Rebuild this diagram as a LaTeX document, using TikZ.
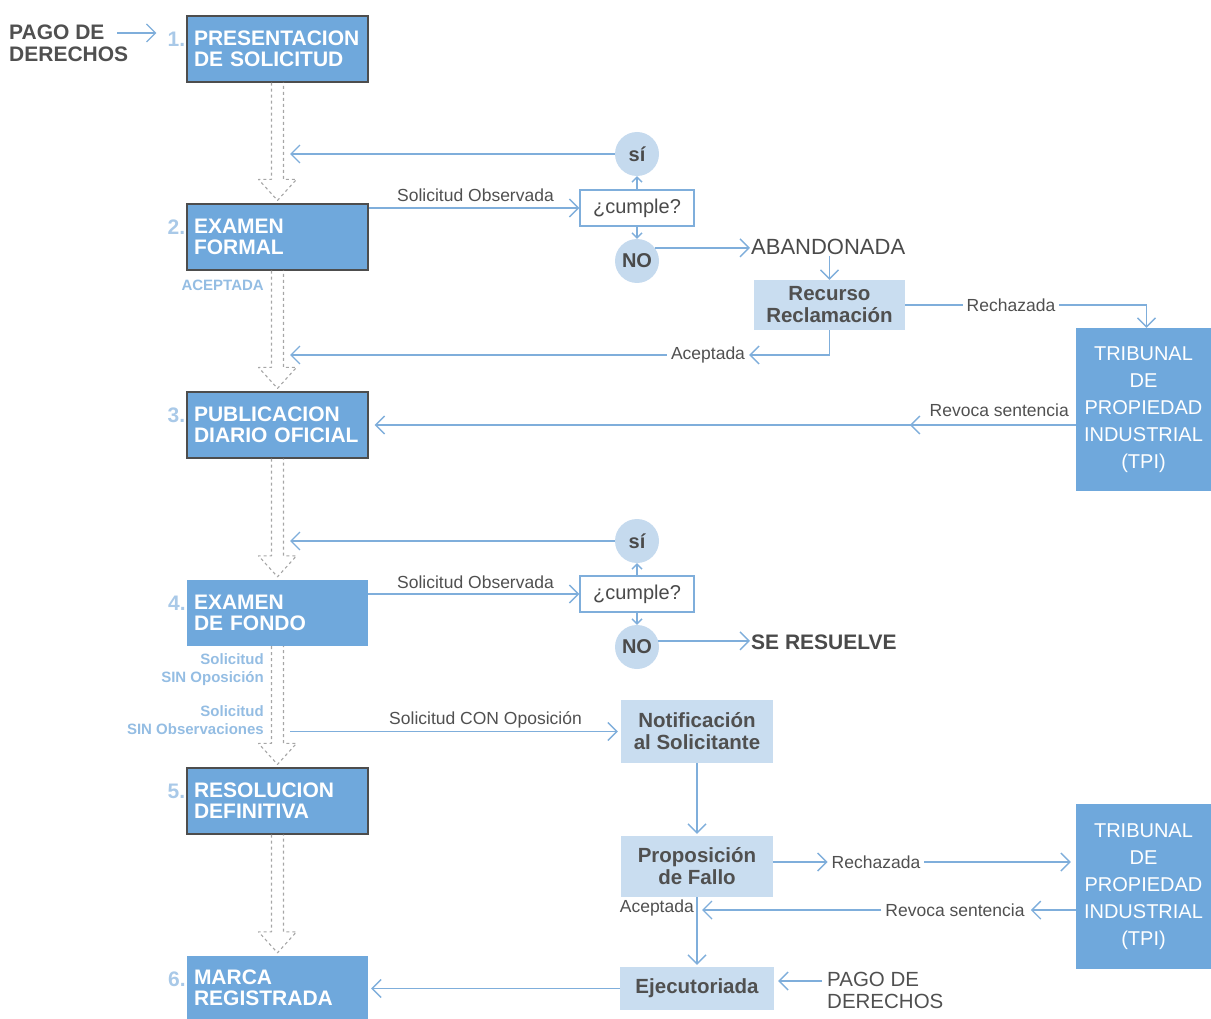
\documentclass[tikz,border=0pt]{standalone}
\usepackage{fontspec}
\setmainfont{Liberation Sans}
\usetikzlibrary{arrows.meta,calc,decorations.markings}
\definecolor{boxblue}{HTML}{6FA8DC}
\definecolor{boxborder}{HTML}{4D4D4D}
\definecolor{lightbox}{HTML}{C9DDF0}
\definecolor{circlefill}{HTML}{C5DAEE}
\definecolor{linecol}{HTML}{7FAEDB}
\definecolor{numcol}{HTML}{A9C9E8}
\definecolor{leftcol}{HTML}{94BDE3}
\definecolor{textgray}{HTML}{505050}
\definecolor{textdark}{HTML}{4A4A4A}
\definecolor{dashgray}{HTML}{A6A6A6}
\tikzset{
  mainbox/.style={fill=boxblue, minimum width=181pt, minimum height=66pt, text width=167pt,
    inner xsep=7pt, inner ysep=0pt, align=left, text=white, font=\fontsize{21}{21}\selectfont\bfseries},
  bordered/.style={draw=boxborder, line width=1.2pt},
  num/.style={text=numcol, font=\fontsize{21}{21}\selectfont\bfseries, inner sep=0pt, anchor=base east},
  lightnode/.style={fill=lightbox, text=textgray, font=\fontsize{20.5}{22}\selectfont\bfseries, align=center, inner sep=0pt},
  circ/.style={circle, fill=circlefill, minimum size=44pt, inner sep=0pt, text=textdark, font=\fontsize{20}{20}\selectfont\bfseries},
  cumple/.style={draw=linecol, line width=1.3pt, fill=white, minimum width=114pt, minimum height=36pt, inner sep=0pt, text=textdark, font=\fontsize{20}{20}\selectfont},
  lbl/.style={text=textgray, font=\fontsize{17.5}{18}\selectfont, inner ysep=1pt, inner xsep=4pt},
  leftlbl/.style={text=leftcol, font=\fontsize{15}{18}\selectfont\bfseries, inner sep=0pt, align=right},
  trib/.style={fill=boxblue, text=white, minimum width=135pt, align=center, font=\fontsize{20}{27}\selectfont, inner sep=0pt},
  bigtxt/.style={text=textdark, font=\fontsize{22}{22}\selectfont, inner sep=1pt},
  bigbold/.style={text=textdark, font=\fontsize{21}{21}\selectfont\bfseries, inner sep=1pt},
  pagotxt/.style={text=textgray, font=\fontsize{20.5}{22}\selectfont, align=left, inner sep=0pt},
  conn/.style={draw=linecol, line width=1.4pt},
  arr/.style={conn, -{Straight Barb[length=9pt,width=18pt]}},
  sarr/.style={conn, -{Straight Barb[length=5pt,width=10pt]}},
  dasharr/.style={draw=dashgray, line width=1.1pt, dash pattern=on 3pt off 3pt, line join=round},
}
\begin{document}
\begin{tikzpicture}[x=1pt,y=-1pt]
\useasboundingbox (0,0) rectangle (1211,1019);

% main steps
\node[mainbox,bordered] (b1) at (277.5,49) {PRESENTACION\\DE SOLICITUD};
\node[mainbox,bordered] (b2) at (277.5,237) {EXAMEN\\FORMAL};
\node[mainbox,bordered] (b3) at (277.5,425) {PUBLICACION\\DIARIO OFICIAL};
\node[mainbox] (b4) at (277.5,613) {EXAMEN\\DE FONDO};
\node[mainbox,bordered] (b5) at (277.5,801) {RESOLUCION\\DEFINITIVA};
\node[mainbox, minimum height=63pt] (b6) at (277.5,987.5) {MARCA\\REGISTRADA};
\foreach \b/\n in {b1/1,b2/2,b3/3,b4/4,b5/5,b6/6}
  \node[num] (num\n) at ($(\b.north west)+(-1,31)$) {\n.};

% dashed double arrows
\foreach \a/\b in {b1/b2,b2/b3,b3/b4,b4/b5,b5/b6}
  \draw[dasharr] ($(\a.south)+(-6,0)$) -- ($(\b.north)+(-6,-24)$) -- ($(\b.north)+(-19,-24)$)
    -- ($(\b.north)+(0,-3)$) -- ($(\b.north)+(19,-24)$) -- ($(\b.north)+(6,-24)$) -- ($(\a.south)+(6,0)$);

% top-left payment
\node[pagotxt, font=\fontsize{21}{22}\selectfont\bfseries, text=textgray, anchor=north west] (pg1) at (9,25) {PAGO DE\\DERECHOS};
\coordinate (pgB) at (117,33);
\draw[arr] (pgB) -- ([xshift=-11pt]num1.west |- pgB);

% first check
\node[circ] (s1) at (637,154) {sí};
\node[cumple] (c1) at (637,208) {¿cumple?};
\node[circ] (o1) at (637,261) {NO};
\coordinate (j1) at (290,154);
\draw[arr] (s1.west) -- (j1);
\draw[arr] (b2.east |- c1) -- (c1.west);
\node[lbl, anchor=base east] (so1) at (558,202) {Solicitud Observada};
\draw[sarr] (c1.north) -- (s1.south);
\draw[sarr] (c1.south) -- (o1.north);
\node[bigtxt, anchor=west] (ab) at (750,247) {ABANDONADA};
\draw[arr] (o1.36) -- (o1.36 -| ab.west);
\node[lightnode, minimum width=151pt, minimum height=50pt] (rr) at (829.5,305) {Recurso\\Reclamación};
\draw[arr] (ab.south -| rr.north) -- (rr.north);

\node[trib, minimum height=163pt] (t1) at (1143.5,409.5) {TRIBUNAL\\DE\\PROPIEDAD\\INDUSTRIAL\\(TPI)};
\node[lbl] (rz1) at (1011,305) {Rechazada};
\draw[conn] (rr.east) -- (rz1.west);
\draw[arr] (rz1.east) -| ([xshift=3pt]t1.north);

\node[lbl] (ac1) at (708,355) {Aceptada};
\draw[arr] (rr.south) |- (ac1.east);
\coordinate (j2) at (290,355);
\draw[arr] (ac1.west) -- (j2);

\node[lbl, anchor=base east] (rv1) at (1073,416) {Revoca sentencia};
\draw[arr, shorten >=6pt, postaction={decorate},
  decoration={markings, mark=at position 166pt with {\arrow{Straight Barb[length=9pt,width=18pt]}}}]
  (t1.west |- b3.east) -- (b3.east);

% second check
\node[circ] (s2) at (637,541) {sí};
\node[cumple] (c2) at (637,594) {¿cumple?};
\node[circ] (o2) at (637,647) {NO};
\coordinate (j3) at (290,541);
\draw[arr] (s2.west) -- (j3);
\draw[arr] (b4.east |- c2) -- (c2.west);
\node[lbl, anchor=base east] (so2) at (558,588) {Solicitud Observada};
\draw[sarr] (c2.north) -- (s2.south);
\draw[sarr] (c2.south) -- (o2.north);
\node[bigbold, anchor=west] (sr) at (750,642) {SE RESUELVE};
\draw[arr] (o2.16) -- (o2.16 -| sr.west);

% left labels
\node[leftlbl, anchor=east] (acep) at (264,285) {ACEPTADA};
\node[leftlbl, anchor=east] (sinop) at (264,670) {Solicitud\\SIN Oposición};
\node[leftlbl, anchor=east] (sinobs) at (264,720) {Solicitud\\SIN Observaciones};

% opposition branch
\node[lightnode, minimum width=152pt, minimum height=63pt] (nt) at (697,731.5) {Notificación\\al Solicitante};
\coordinate (j5) at (290,731.5);
\draw[arr, shorten >=3pt] (j5) -- (nt.west);
\node[lbl, anchor=base east] (con) at (586,724) {Solicitud CON Oposición};

\node[lightnode, minimum width=152pt, minimum height=61pt] (pf) at (697,866.5) {Proposición\\de Fallo};
\draw[arr, shorten >=2pt] (nt.south) -- (pf.north);

\node[trib, minimum height=165pt] (t2) at (1143.5,886.5) {TRIBUNAL\\DE\\PROPIEDAD\\INDUSTRIAL\\(TPI)};
\node[lbl] (rz2) at (876,862) {Rechazada};
\draw[arr] (pf.east |- rz2) -- (rz2.west);
\draw[arr, shorten >=5pt] (rz2.east) -- (t2.west |- rz2);

\node[lbl] (rv2) at (955,910) {Revoca sentencia};
\draw[arr, shorten >=2pt] (t2.west |- rv2) -- (rv2.east);
\draw[arr, shorten >=5pt] (rv2.west) -- (pf.south |- rv2);
\node[lbl, anchor=east, inner xsep=0pt] (ac2) at (694,908) {Aceptada};

\node[lightnode, minimum width=154pt, minimum height=43pt] (ej) at (697,988.5) {Ejecutoriada};
\draw[arr, shorten >=2pt] (pf.south) -- (ej.north);

\node[pagotxt, anchor=north west] (pg2) at (827,972) {PAGO DE\\DERECHOS};
\coordinate (pgA) at (822,981);
\draw[arr, shorten >=4pt] (pgA) -- (ej.east |- pgA);
\draw[arr, shorten >=3pt] (ej.west) -- (b6.east |- ej.west);
\end{tikzpicture}
\end{document}
